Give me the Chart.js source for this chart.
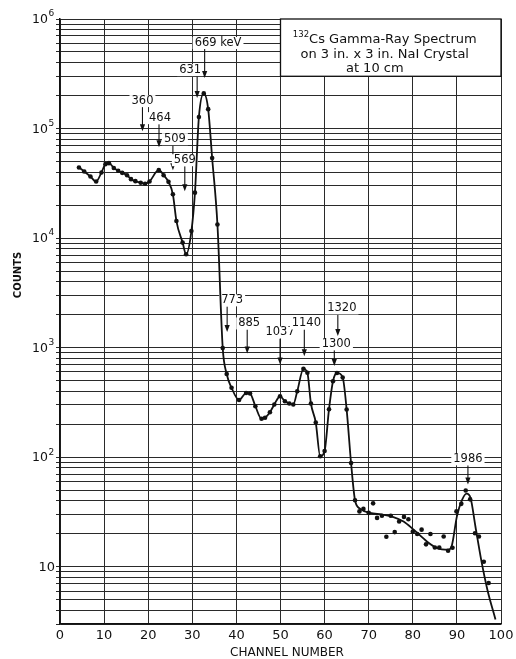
<!DOCTYPE html>
<html>
<head>
<meta charset="utf-8">
<script src="https://cdn.jsdelivr.net/npm/chart.js@4.4.1/dist/chart.umd.min.js"></script>
<style>
  html, body { margin: 0; background: #fff; }
  #wrap { width: 516px; height: 659px; }
</style>
</head>
<body>
<div id="wrap"><canvas id="c" width="516" height="659"></canvas></div>
<script>
/* =============== Data =============== */
// measured points: channel number / counts
const pointChannels = [4.3, 5.5, 6.9, 8.2, 9.4, 10.3, 11.1, 12.2, 13.2, 14.1, 15.2, 16.1, 17.1, 18.3, 19.3, 20.3,
  22.4, 23.5, 24.6, 25.6, 26.4, 27.8, 28.6, 29.8, 30.6, 31.5, 32.6, 33.6, 34.5, 35.7,
  36.9, 37.8, 38.9, 40.6, 42.2, 43.1, 44.3, 45.7, 46.5, 47.6, 48.6, 49.9, 51.0, 52.0, 52.9, 53.8,
  55.2, 56.1, 56.9, 58.0, 59.0, 60.0, 61.0, 61.9, 62.8, 64.1, 65.0, 66.0, 66.9,
  67.9, 68.8, 70.0, 71.0, 71.9, 73.0, 74.0, 75.0, 75.9, 76.9, 78.0, 79.0, 80.0, 81.0, 82.0,
  83.0, 84.0, 85.0, 86.0, 87.0, 88.0, 89.0, 89.9, 91.0, 92.0, 93.0, 94.1, 95.0, 96.1, 97.2];
const pointCounts = [44100, 40600, 36500, 32900, 39700, 47300, 48300, 43700, 41200, 39400, 37500, 34500, 33100, 32000, 31300, 32900,
  41900, 37500, 32600, 25100, 14300, 9100, 7110, 11600, 26000, 127600, 209400, 150400, 53900, 13300,
  990, 575, 430, 333, 385, 381, 292, 224, 229, 257, 303, 360, 324, 309, 303, 400,
  641, 590, 309, 207, 102, 114, 274, 494, 587, 534, 272, 88.5, 40.4,
  32.0, 33.7, 31.0, 37.9, 27.9, 29.2, 18.8, 29.2, 20.7, 25.9, 28.5, 27.1, 20.9, 19.9, 21.8,
  16.0, 19.9, 15.0, 15.0, 18.9, 14.0, 14.9, 32.0, 37.5, 49.7, 41.2, 20.2, 18.9, 11.1, 7.1];

// the drawn curve follows the points up to channel 67, then a smooth fit through the tail
const tailChannels = [68.1, 70.3, 73.0, 75.6, 77.9, 80.2, 83.2, 85.5, 88.1, 88.9, 90.0, 91.2, 92.2, 93.1, 94.2, 95.5, 96.9, 98.75];
const tailCounts = [33.7, 31.0, 29.9, 28.4, 25.9, 21.8, 17.0, 14.8, 14.3, 15.9, 28.8, 41, 46.5, 42.4, 23.3, 11.6, 6.2, 3.3];

// energy markers (keV)
const arrowLabels = ['360', '464', '509', '569', '631', '669 keV', '773', '885', '1037', '1140', '1320', '1300', '1986'];
const arrowChannels = [18.7, 22.45, 25.6, 28.3, 31.1, 32.8, 37.9, 42.45, 49.9, 55.4, 63.0, 62.2, 92.5];
const arrowTipCounts = [94700, 67600, 41700, 26800, 189600, 289000, 1387, 885, 702, 836, 1274, 678, 56.2];
const arrowTopCounts = [157000, 109700, 70500, 45300, 301000, 532000, 2380, 1466, 1213, 1466, 2010, 948, 84.3];

// axis ticks
const xTickLabels = [0, 10, 20, 30, 40, 50, 60, 70, 80, 90, 100];
const yTickValues = [10, 100, 1000, 10000, 100000, 1000000];
const yTickExp = ['', '2', '3', '4', '5', '6'];

/* =============== Build datasets =============== */
const points = pointChannels.map((c, i) => ({ x: c, y: pointCounts[i] }));
const lastOnCurve = pointChannels.indexOf(66.9);
const curve = points.slice(0, lastOnCurve + 1)
  .concat(tailChannels.map((c, i) => ({ x: c, y: tailCounts[i] })));

// log grid: 1..9 in every decade, from 3 up to 10^6
const yGrid = [];
for (let e = 0; e < 6; e++) {
  for (let m = 1; m < 10; m++) {
    const v = m * Math.pow(10, e);
    if (v >= 3) yGrid.push(v);
  }
}
yGrid.push(1e6);

/* =============== Overlay: labels, title box, arrows =============== */
const FONT = '"DejaVu Sans", sans-serif';
const labelDx = { '464': 1, '509': 2, '631': -7, '773': 5, '885': 2, '1140': 2, '1320': 4, '1300': 2 };

const overlay = {
  id: 'overlay',
  // box and markers sit on the grid, under the curve
  beforeDatasetsDraw(chart) {
    const { ctx, scales: { x, y } } = chart;
    ctx.save();
    ctx.fillStyle = '#111';
    ctx.strokeStyle = '#111';

    // title box
    const bx = x.getPixelForValue(50), by = y.getPixelForValue(1e6);
    const bw = x.getPixelForValue(100) - bx, bh = y.getPixelForValue(3e5) - by;
    ctx.fillStyle = '#fff';
    ctx.fillRect(bx, by, bw, bh);
    ctx.lineWidth = 1.3;
    ctx.strokeRect(bx, by, bw, bh);
    ctx.fillStyle = '#111';
    ctx.textBaseline = 'middle';
    const t1a = '132', t1b = 'Cs Gamma-Ray Spectrum';
    ctx.font = '8.5px ' + FONT;
    const wa = ctx.measureText(t1a).width;
    ctx.font = '13px ' + FONT;
    const wb = ctx.measureText(t1b).width;
    const cx = bx + bw / 2 - 6;
    const sx = cx - (wa + wb) / 2;
    ctx.textAlign = 'left';
    ctx.font = '8.5px ' + FONT;
    ctx.fillText(t1a, sx, by + 16);
    ctx.font = '13px ' + FONT;
    ctx.fillText(t1b, sx + wa, by + 21);
    ctx.textAlign = 'center';
    ctx.fillText('on 3 in. x 3 in. NaI Crystal', cx, by + 36);
    ctx.fillText('at 10 cm', cx - 10, by + 50);

    // energy arrows
    ctx.font = '11.5px ' + FONT;
    arrowLabels.forEach((lab, i) => {
      const ax = x.getPixelForValue(arrowChannels[i]);
      const tip = y.getPixelForValue(arrowTipCounts[i]);
      const top = y.getPixelForValue(arrowTopCounts[i]);
      ctx.lineWidth = 1.1;
      ctx.beginPath();
      ctx.moveTo(ax, top);
      ctx.lineTo(ax, tip - 5);
      ctx.stroke();
      ctx.beginPath();
      ctx.moveTo(ax, tip);
      ctx.lineTo(ax - 2.6, tip - 7);
      ctx.lineTo(ax + 2.6, tip - 7);
      ctx.closePath();
      ctx.fill();

      const ly = top - 6;
      let lx, w;
      if (lab === '669 keV') {
        const w0 = ctx.measureText('669').width;
        w = ctx.measureText(lab).width;
        lx = ax - w0 / 2 + 1;
      } else {
        w = ctx.measureText(lab).width;
        lx = ax + (labelDx[lab] || 0) - w / 2;
      }
      ctx.fillStyle = '#fff';
      ctx.fillRect(lx - 2, ly - 6, w + 4, 12);
      ctx.fillStyle = '#111';
      ctx.textAlign = 'left';
      ctx.fillText(lab, lx, ly);
    });
    ctx.restore();
  },
  afterDatasetsDraw(chart) {
    const { ctx, scales: { x, y }, chartArea: ca } = chart;
    ctx.save();
    ctx.fillStyle = '#111';
    ctx.textBaseline = 'middle';

    // x tick labels + title
    ctx.textAlign = 'center';
    ctx.font = '13px ' + FONT;
    xTickLabels.forEach(v => ctx.fillText(String(v), x.getPixelForValue(v), ca.bottom + 12));
    ctx.font = '12px ' + FONT;
    ctx.fillText('CHANNEL NUMBER', 287, ca.bottom + 29);

    // y tick labels
    yTickValues.forEach((v, i) => {
      const py = y.getPixelForValue(v);
      if (yTickExp[i]) {
        ctx.textAlign = 'right';
        ctx.font = '12.5px ' + FONT;
        ctx.fillText('10', 48, py + 1);
        ctx.textAlign = 'left';
        ctx.font = '9px ' + FONT;
        ctx.fillText(yTickExp[i], 48.5, py - 5);
      } else {
        ctx.textAlign = 'right';
        ctx.font = '13px ' + FONT;
        ctx.fillText('10', 55, py + 1);
      }
    });

    // y title
    ctx.translate(18, 275);
    ctx.rotate(-Math.PI / 2);
    ctx.textAlign = 'center';
    ctx.font = 'bold 10px ' + FONT;
    ctx.fillText('COUNTS', 0, 0);

    ctx.restore();
  }
};

/* =============== Chart =============== */
new Chart(document.getElementById('c'), {
  type: 'scatter',
  data: {
    datasets: [
      {
        data: curve,
        showLine: true,
        borderColor: '#111',
        borderWidth: 1.8,
        pointRadius: 0,
        cubicInterpolationMode: 'monotone',
        order: 2
      },
      {
        data: points,
        showLine: false,
        pointRadius: 2.3,
        pointBackgroundColor: '#111',
        pointBorderWidth: 0,
        order: 1
      }
    ]
  },
  options: {
    responsive: false,
    animation: false,
    layout: { padding: { left: 56, top: 19, right: 15, bottom: 35 } },
    plugins: { legend: { display: false }, tooltip: { enabled: false } },
    scales: {
      x: {
        type: 'linear', min: 0, max: 100,
        ticks: { display: false, stepSize: 10 },
        grid: { color: '#2a2a2a', lineWidth: 1, drawTicks: false },
        border: { color: '#111', width: 1.5 }
      },
      y: {
        type: 'logarithmic', min: 3, max: 1e6,
        ticks: { display: false },
        afterBuildTicks: s => { s.ticks = yGrid.map(v => ({ value: v })); },
        grid: { color: '#2a2a2a', lineWidth: 1, drawTicks: true, tickLength: 4 },
        border: { color: '#111', width: 1.5 }
      }
    }
  },
  plugins: [overlay]
});
</script>
</body>
</html>
